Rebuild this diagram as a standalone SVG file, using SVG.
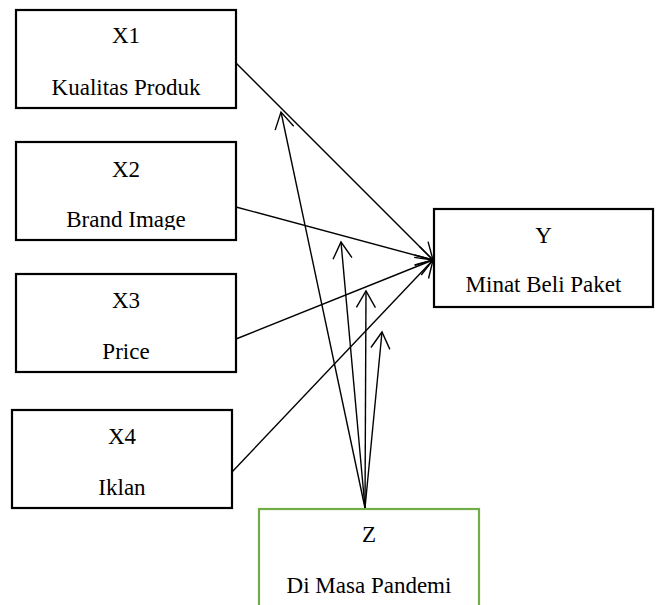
<svg xmlns="http://www.w3.org/2000/svg" width="657" height="605" viewBox="0 0 657 605">
<style>
.box{fill:#fff;stroke:#000;stroke-width:2.2}
.zbox{fill:#fff;stroke:#70AD47;stroke-width:2.2}
.t{font-family:"Times New Roman","Liberation Serif","DejaVu Serif",serif;font-size:23px;fill:#000;text-anchor:middle}
.c{stroke:#000;stroke-width:1.4;fill:none;marker-end:url(#ah)}
</style>
<defs>
<marker id="ah" markerUnits="userSpaceOnUse" markerWidth="30" markerHeight="30" refX="0" refY="0" orient="auto" overflow="visible">
<path d="M -16.5 -9.5 L 0 0 L -16.5 9.5" fill="none" stroke="#000" stroke-width="1.4"/>
</marker>
<clipPath id="clip2"><rect x="16" y="142" width="220" height="88"/></clipPath>
</defs>
<rect width="657" height="605" fill="#fff"/>
<g id="X1">
<rect class="box" x="16" y="10" width="220" height="98"/>
<text class="t" x="126" y="43">X1</text>
<text class="t" x="126" y="95">Kualitas Produk</text>
</g>
<g id="X2">
<rect class="box" x="16" y="142" width="220" height="98"/>
<text class="t" x="126" y="177">X2</text>
<text class="t" x="126" y="227" clip-path="url(#clip2)">Brand Image</text>
</g>
<g id="X3">
<rect class="box" x="16" y="274" width="220" height="98"/>
<text class="t" x="126" y="308">X3</text>
<text class="t" x="126" y="359">Price</text>
</g>
<g id="X4">
<rect class="box" x="12" y="410" width="220" height="98"/>
<text class="t" x="122" y="444">X4</text>
<text class="t" x="122" y="495">Iklan</text>
</g>
<g id="Y">
<rect class="box" x="434" y="209" width="219" height="98"/>
<text class="t" x="543.5" y="243">Y</text>
<text class="t" x="543.5" y="292">Minat Beli Paket</text>
</g>
<g id="Z">
<rect class="zbox" x="259" y="509" width="220" height="110"/>
<text class="t" x="369" y="542">Z</text>
<text class="t" x="369" y="593">Di Masa Pandemi</text>
</g>
<g id="connectors">
<line class="c" x1="236" y1="63" x2="433" y2="260"/>
<line class="c" x1="236" y1="207" x2="433" y2="260"/>
<line class="c" x1="236" y1="339" x2="433" y2="260"/>
<line class="c" x1="232" y1="472" x2="433" y2="260"/>
<line class="c" x1="365" y1="508" x2="281" y2="112"/>
<line class="c" x1="365" y1="508" x2="341" y2="242"/>
<line class="c" x1="365" y1="508" x2="366" y2="291"/>
<line class="c" x1="365" y1="508" x2="382" y2="332"/>
</g>
</svg>
